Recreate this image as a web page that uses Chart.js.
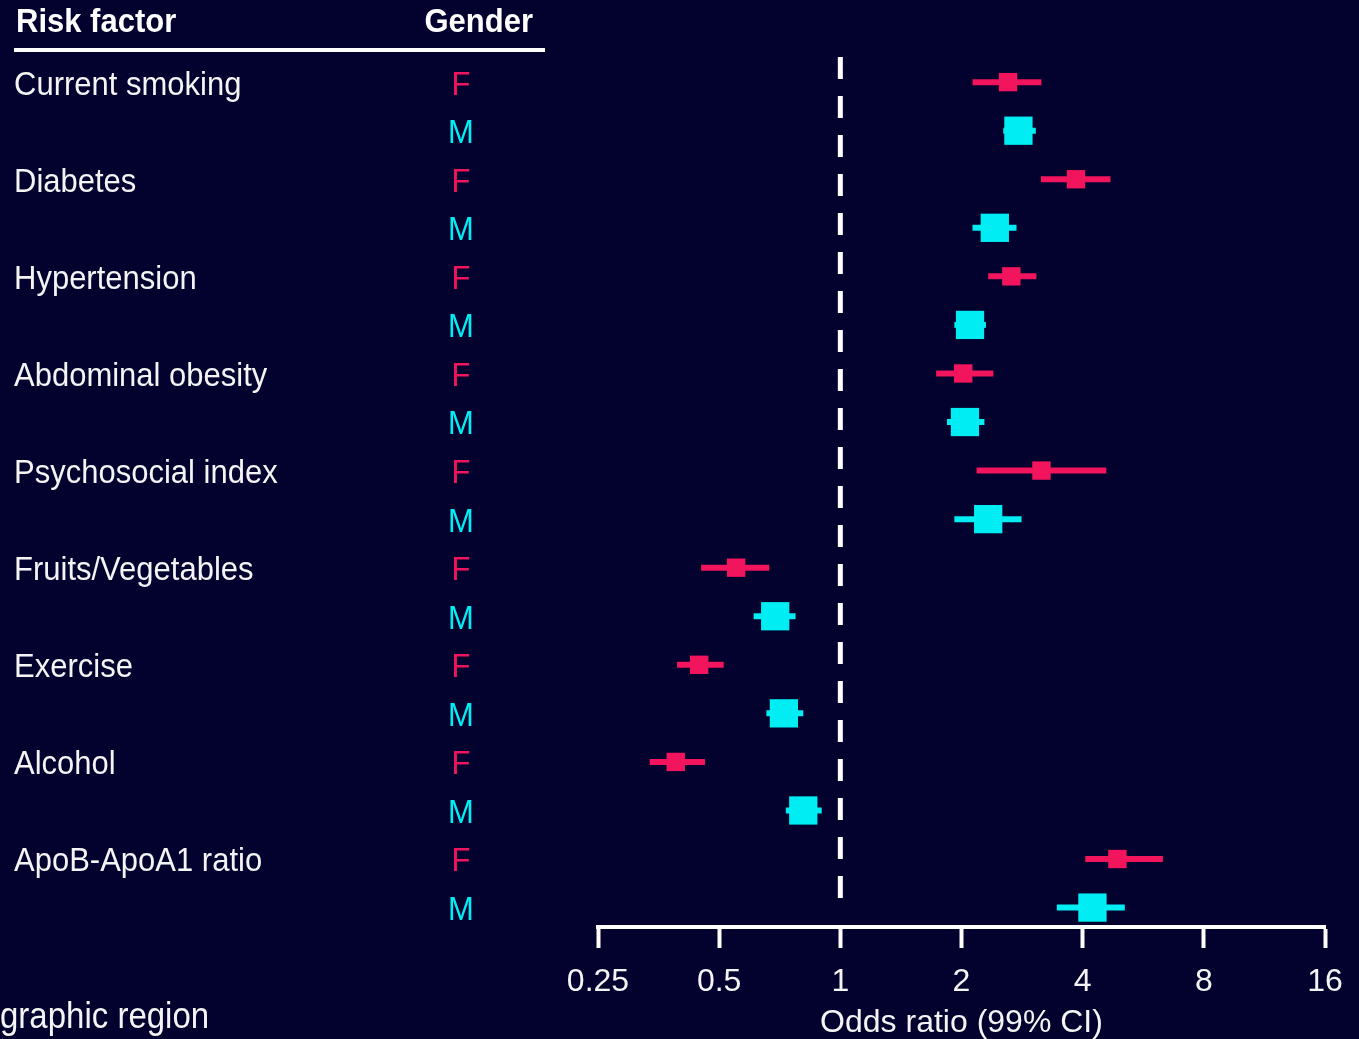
<!DOCTYPE html>
<html>
<head>
<meta charset="utf-8">
<script src="https://cdn.jsdelivr.net/npm/chart.js@4.4.1/dist/chart.umd.min.js"></script>
<style>
  html, body { margin: 0; padding: 0; background: #03012e; }
  canvas { display: block; }
</style>
</head>
<body>
<canvas id="forest" width="1359" height="1039"></canvas>
<script>
// Risk factors, one F row and one M row each
const factors = ['Current smoking', 'Diabetes', 'Hypertension', 'Abdominal obesity',
  'Psychosocial index', 'Fruits/Vegetables', 'Exercise', 'Alcohol', 'ApoB-ApoA1 ratio']

// Odds ratios with 99% CI, women
const femaleOR = [2.61, 3.85, 2.66, 2.02, 3.16, 0.551, 0.446, 0.390, 4.88]
const femaleLo = [2.13, 3.15, 2.33, 1.73, 2.18, 0.451, 0.393, 0.336, 4.06]
const femaleHi = [3.16, 4.69, 3.07, 2.40, 4.58, 0.666, 0.513, 0.461, 6.33]

// Odds ratios with 99% CI, men
const maleOR = [2.77, 2.42, 2.10, 2.04, 2.33, 0.689, 0.724, 0.809, 4.23]
const maleLo = [2.54, 2.13, 1.92, 1.84, 1.92, 0.609, 0.655, 0.732, 3.45]
const maleHi = [3.06, 2.74, 2.30, 2.28, 2.82, 0.774, 0.809, 0.899, 5.09]

const xTicks = [0.25, 0.5, 1, 2, 4, 8, 16]

const RED = '#f2145c'
const CYAN = '#00eef3'
const FONT = '"Liberation Sans", Arial, sans-serif'

// row index: women on even rows, men on odd rows
const femaleRow = i => 2 * i
const maleRow = i => 2 * i + 1

const toPoints = (vals, rowFn) => vals.map((v, i) => ({x: v, y: rowFn(i)}))

// CI whiskers drawn through the chart scales
const whiskers = {
    id: 'whiskers',
    beforeDatasetsDraw(chart) {
        const {ctx, scales: {x, y}} = chart
        const draw = (lo, hi, rowFn, color, width) => {
            ctx.strokeStyle = color
            ctx.lineWidth = width
            lo.forEach((l, i) => {
                const py = y.getPixelForValue(rowFn(i))
                ctx.beginPath()
                ctx.moveTo(x.getPixelForValue(l), py)
                ctx.lineTo(x.getPixelForValue(hi[i]), py)
                ctx.stroke()
            })
        }
        ctx.save()
        draw(femaleLo, femaleHi, femaleRow, RED, 6)
        draw(maleLo, maleHi, maleRow, CYAN, 6)
        ctx.restore()
    }
}

// text a little taller than wide, like the slide
const tallText = (ctx, text, x, y) => {
    ctx.save()
    ctx.translate(x, y)
    ctx.scale(1, 1.1)
    ctx.fillText(text, 0, 0)
    ctx.restore()
}

// Left-hand table: risk factor names and gender letters
const table = {
    id: 'table',
    afterDraw(chart) {
        const {ctx, scales: {y}} = chart
        ctx.save()
        ctx.textBaseline = 'middle'

        // header
        ctx.fillStyle = '#ffffff'
        ctx.font = `bold 31px ${FONT}`
        ctx.textAlign = 'left'
        tallText(ctx, 'Risk factor', 16, 23)
        ctx.textAlign = 'right'
        tallText(ctx, 'Gender', 533, 23)
        ctx.fillRect(14, 48, 531, 4)

        // rows
        ctx.font = `31px ${FONT}`
        factors.forEach((name, i) => {
            const yF = y.getPixelForValue(femaleRow(i)) + 3
            const yM = y.getPixelForValue(maleRow(i)) + 3
            ctx.textAlign = 'left'
            ctx.fillStyle = '#f4f4f4'
            tallText(ctx, name, 14, yF)
            ctx.textAlign = 'center'
            ctx.fillStyle = RED
            tallText(ctx, 'F', 461, yF)
            ctx.fillStyle = CYAN
            tallText(ctx, 'M', 461, yM)
        })

        // cut-off label from the next panel
        ctx.font = `33px ${FONT}`
        ctx.textAlign = 'left'
        ctx.fillStyle = '#f4f4f4'
        tallText(ctx, 'Geographic region', -ctx.measureText('Geo').width, 1018)
        ctx.restore()
    }
}

new Chart(document.getElementById('forest'), {
    type: 'scatter',
    data: {
        datasets: [
            {
                type: 'line',
                data: [{x: 1, y: -0.52}, {x: 1, y: 16.95}],
                borderColor: '#ffffff',
                borderWidth: 5,
                borderDash: [22, 17],
                pointRadius: 0
            },
            {
                label: 'F',
                data: toPoints(femaleOR, femaleRow),
                pointStyle: 'rect',
                pointRadius: 13,
                backgroundColor: RED,
                borderWidth: 0
            },
            {
                label: 'M',
                data: toPoints(maleOR, maleRow),
                pointStyle: 'rect',
                pointRadius: 20,
                backgroundColor: CYAN,
                borderWidth: 0
            }
        ]
    },
    options: {
        responsive: false,
        animation: false,
        layout: {padding: {left: 598, right: 34, top: 53, bottom: 0}},
        plugins: {legend: {display: false}, tooltip: {enabled: false}},
        scales: {
            x: {
                type: 'logarithmic',
                min: 0.25,
                max: 16,
                afterBuildTicks: s => { s.ticks = xTicks.map(v => ({value: v})) },
                afterFit: s => { s.height = 112 },
                ticks: {
                    color: '#f4f4f4',
                    font: {size: 32, family: FONT},
                    padding: 15,
                    autoSkip: false,
                    maxRotation: 0,
                    callback: v => String(v)
                },
                grid: {
                    drawOnChartArea: false,
                    drawTicks: true,
                    tickLength: 21,
                    tickWidth: 4,
                    tickColor: '#ffffff'
                },
                border: {display: true, color: '#ffffff', width: 4},
                title: {
                    display: true,
                    text: 'Odds ratio (99% CI)',
                    color: '#f4f4f4',
                    font: {size: 32, family: FONT, lineHeight: 1.0},
                    padding: {top: 0, bottom: 0}
                }
            },
            y: {
                type: 'linear',
                min: -0.6,
                max: 17.4,
                reverse: true,
                display: false
            }
        }
    },
    plugins: [whiskers, table]
})
</script>
</body>
</html>
